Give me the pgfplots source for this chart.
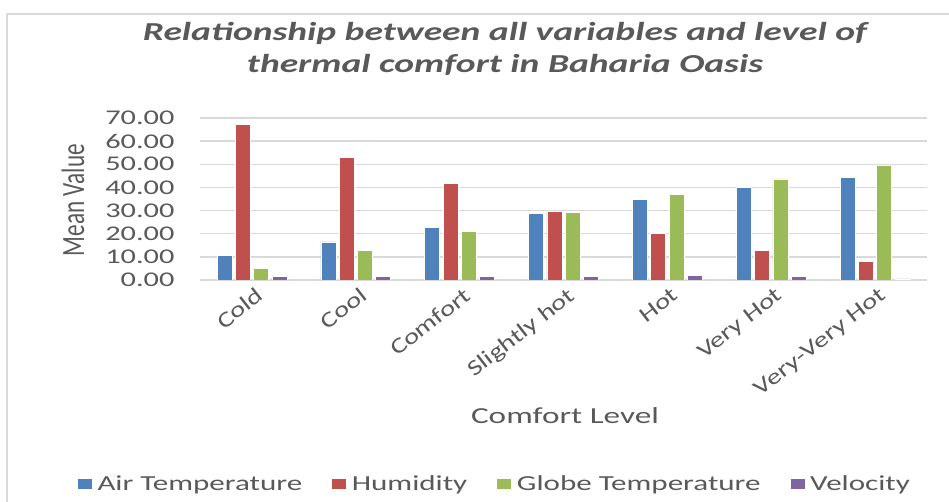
\documentclass[border=0pt]{standalone}
\usepackage{fontspec}
\setmainfont{Carlito}[FakeStretch=1.45]
\newfontfamily\plainfont{Carlito}[FakeStretch=1.3]
\newfontfamily\vplainfont{Carlito}
\usepackage{graphicx}
\usepackage{pgfplots}
\usepackage{pgfplotstable}
\pgfplotsset{compat=1.18}
\definecolor{txt}{HTML}{595959}
\definecolor{gridc}{HTML}{D9D9D9}
\definecolor{cA}{HTML}{4F81BD}
\definecolor{cB}{HTML}{C0504D}
\definecolor{cC}{HTML}{9BBB59}
\definecolor{cD}{HTML}{8064A2}
\pgfplotstableread{
x air hum globe vel
0 10.8 67.1 5.0 1.4
1 16.5 53.1 12.7 1.4
2 22.9 41.8 21.1 1.4
3 28.7 29.7 29.1 1.4
4 34.9 20.2 37.1 2.0
5 40.0 12.7 43.7 1.4
6 44.2 8.1 49.5 0.5
}\datatable
\begin{document}
\begin{tikzpicture}
\path[use as bounding box] (0,0) rectangle (949bp,502bp);
\draw[gridc, line width=2.5bp] (7bp,0) -- (7bp,488bp) -- (949bp,488bp);
\begin{axis}[
  at={(200bp,222bp)}, anchor=south west,
  scale only axis, width=727bp, height=162bp,
  xmin=-0.5, xmax=6.5, ymin=0, ymax=70,
  enlargelimits=false,
  ybar, bar width=0.1444,
  xtick={0,...,6},
  xticklabels={Cold,Cool,Comfort,Slightly hot,Hot,Very Hot,Very-Very Hot},
  ytick={0,10,...,70},
  ymajorgrids, grid style={gridc, line width=1.5bp},
  axis x line*=bottom, axis y line*=left,
  y axis line style={draw=none},
  x axis line style={gridc, line width=1.5bp, -},
  major tick length=0pt,
  /pgf/number format/.cd, fixed, fixed zerofill, precision=2, assume math mode=true,
  /pgfplots/.cd,
  yticklabel style={font=\fontsize{21}{24}\selectfont, text=txt, xshift=-22bp},
  xticklabel style={font=\plainfont\fontsize{22}{24}\selectfont, text=txt, rotate=38, anchor=north east, inner sep=1bp, xshift=0bp, yshift=-6bp},
  legend columns=4,
  legend style={at={(0.405,-1.259)}, anchor=center, draw=none, fill=none,
    font=\fontsize{21.5}{24}\selectfont, text=txt,
    /tikz/every even column/.append style={column sep=27bp}},
  legend image code/.code={\fill[#1] (0bp,-5.5bp) rectangle (15bp,5.5bp); \path (18bp,0bp);},
]
\addplot[fill=cA, draw=white, line width=0.6bp, bar shift=-0.264] table[x=x,y=air]{\datatable};
\addplot[fill=cB, draw=white, line width=0.6bp, bar shift=-0.088] table[x=x,y=hum]{\datatable};
\addplot[fill=cC, draw=white, line width=0.6bp, bar shift=0.088] table[x=x,y=globe]{\datatable};
\addplot[fill=cD, draw=white, line width=0.6bp, bar shift=0.264] table[x=x,y=vel]{\datatable};
\legend{Air Temperature,Humidity,Globe Temperature,Velocity}
\end{axis}
\node[anchor=base, text=txt, font=\fontsize{26}{30}\selectfont\bfseries\itshape] at (505bp,461bp) {Relationship between all variables and level of};
\node[anchor=base, text=txt, font=\fontsize{26}{30}\selectfont\bfseries\itshape] at (505bp,429bp) {thermal comfort in Baharia Oasis};
\node[text=txt, font=\fontsize{23}{26}\selectfont] at (565bp,86.5bp) {Comfort Level};
\node[rotate=90, text=txt] at (73bp,302bp) {\vplainfont\fontsize{23.3}{26}\selectfont\scalebox{1}[1.4]{Mean Value}};
\end{tikzpicture}
\end{document}
